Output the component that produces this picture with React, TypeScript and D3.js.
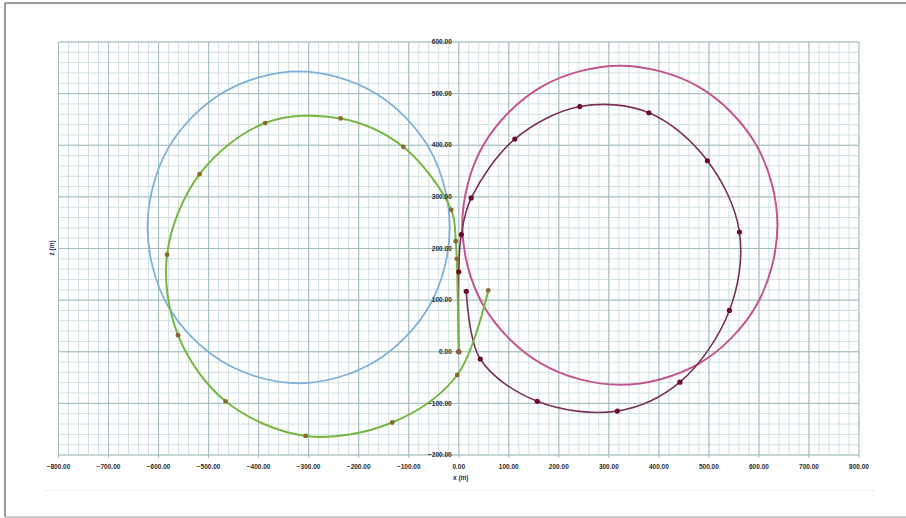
import * as d3 from 'd3';
import React from 'react';

// axis ranges & ticks
const xTicks = [-800, -700, -600, -500, -400, -300, -200, -100, 0, 100, 200, 300, 400, 500, 600, 700, 800];
const yTicks = [-200, -100, 0, 100, 200, 300, 400, 500, 600];

// blue loop (no markers)
const blueX = [-18, -58, -169, -320, -471, -582, -622, -582, -471, -320, -169, -58];
const blueY = [241, 392, 502, 543, 502, 392, 241, 90, -20, -61, -20, 90];

// pink loop (no markers)
const pinkX = [637, 595, 480, 322, 165, 49, 7, 49, 165, 322, 480, 595];
const pinkY = [245, 400, 513, 554, 513, 400, 245, 90, -23, -64, -23, 90];

// green trajectory with markers
const greenX = [0, -4, -6, -15, -111, -236, -387, -518, -583, -561, -466, -306, -133, -3, 59];
const greenY = [0, 180, 214, 275, 397, 452, 443, 344, 188, 32, -96, -163, -137, -45, 119];

// maroon trajectory with markers
const maroonX = [0, 0, 5, 25, 112, 242, 380, 497, 561, 541, 442, 317, 157, 43, 15];
const maroonY = [0, 155, 227, 298, 412, 475, 463, 370, 232, 80, -59, -115, -96, -14, 117];

const W = 906;
const H = 518;

export default function App() {
  const x = d3.scaleLinear().domain([-800, 800]).range([58.5, 859]);
  const y = d3.scaleLinear().domain([-200, 600]).range([455, 42]);

  const minorX = d3.range(-800, 801, 20);
  const minorY = d3.range(-200, 601, 20);

  const zip = (xs: number[], ys: number[]) => xs.map((v, i) => [v, ys[i]] as [number, number]);

  const open = d3.line<[number, number]>()
    .x(d => x(d[0]))
    .y(d => y(d[1]))
    .curve(d3.curveCatmullRom.alpha(0.5));
  const closed = d3.line<[number, number]>()
    .x(d => x(d[0]))
    .y(d => y(d[1]))
    .curve(d3.curveCatmullRomClosed.alpha(0.5));

  const green = zip(greenX, greenY);
  const maroon = zip(maroonX, maroonY);
  const fmt = d3.format('.2f');
  const labelFont = { fontFamily: 'Liberation Sans, Arial, sans-serif', fontSize: 6.5, fontWeight: 700 } as const;

  return (
    <svg width={W} height={H} style={{ position: 'absolute', left: 0, top: 0, background: '#fff' }}>
      {/* outer frame */}
      <line x1={5} y1={3} x2={W} y2={3} stroke="#7a7a7a" strokeWidth={1.5} />
      <line x1={5} y1={3} x2={5} y2={517} stroke="#7a7a7a" strokeWidth={1.5} />
      <line x1={5} y1={517} x2={W} y2={517} stroke="#9a9a9a" strokeWidth={1.2} />
      <line x1={44} y1={490.5} x2={875} y2={490.5} stroke="#eeeeee" strokeWidth={1} />

      {/* minor grid */}
      {minorX.map(v => (
        <line key={'mx' + v} x1={x(v)} x2={x(v)} y1={y(600)} y2={y(-200)} stroke="#cfe0e0" strokeWidth={1} />
      ))}
      {minorY.map(v => (
        <line key={'my' + v} x1={x(-800)} x2={x(800)} y1={y(v)} y2={y(v)} stroke="#cfe0e0" strokeWidth={1} />
      ))}
      {/* major grid */}
      {xTicks.map(v => (
        <line key={'Mx' + v} x1={x(v)} x2={x(v)} y1={y(600)} y2={y(-200) + 3} stroke="#a3bcbe" strokeWidth={1} />
      ))}
      {yTicks.map(v => (
        <line key={'My' + v} x1={x(-800)} x2={x(800)} y1={y(v)} y2={y(v)} stroke="#a3bcbe" strokeWidth={1} />
      ))}

      {/* curves */}
      <path d={closed(zip(blueX, blueY)) ?? ''} fill="none" stroke="#7fb0d8" strokeWidth={1.8} />
      <path d={closed(zip(pinkX, pinkY)) ?? ''} fill="none" stroke="#c2558f" strokeWidth={2} />
      <path d={open(maroon) ?? ''} fill="none" stroke="#7a2f58" strokeWidth={1.6} />
      <path d={open(green) ?? ''} fill="none" stroke="#76b640" strokeWidth={2} />
      {maroon.map((d, i) => (
        <circle key={'mm' + i} cx={x(d[0])} cy={y(d[1])} r={2.6} fill="#6e0b2c" />
      ))}
      {green.map((d, i) => (
        <circle key={'gm' + i} cx={x(d[0])} cy={y(d[1])} r={2.4} fill="#8a6a2a" />
      ))}

      {/* y tick labels at x = 0 */}
      {yTicks.map(v => (
        <text key={'yl' + v} x={x(0) - 7} y={y(v) + 2.2} textAnchor="end" fill="#2a2a2a" {...labelFont}>
          {fmt(v)}
        </text>
      ))}
      {/* x tick labels */}
      {xTicks.map(v => (
        <text key={'xl' + v} x={x(v)} y={469} textAnchor="middle" fill="#2a2a2a" {...labelFont}>
          {fmt(v)}
        </text>
      ))}
      <text x={x(0) + 2} y={480} textAnchor="middle" fill="#1f2a5a" {...labelFont}>x (m)</text>
      <text transform={`translate(54,248) rotate(-90)`} textAnchor="middle" fill="#1f2a5a" {...labelFont}>z (m)</text>
    </svg>
  );
}
